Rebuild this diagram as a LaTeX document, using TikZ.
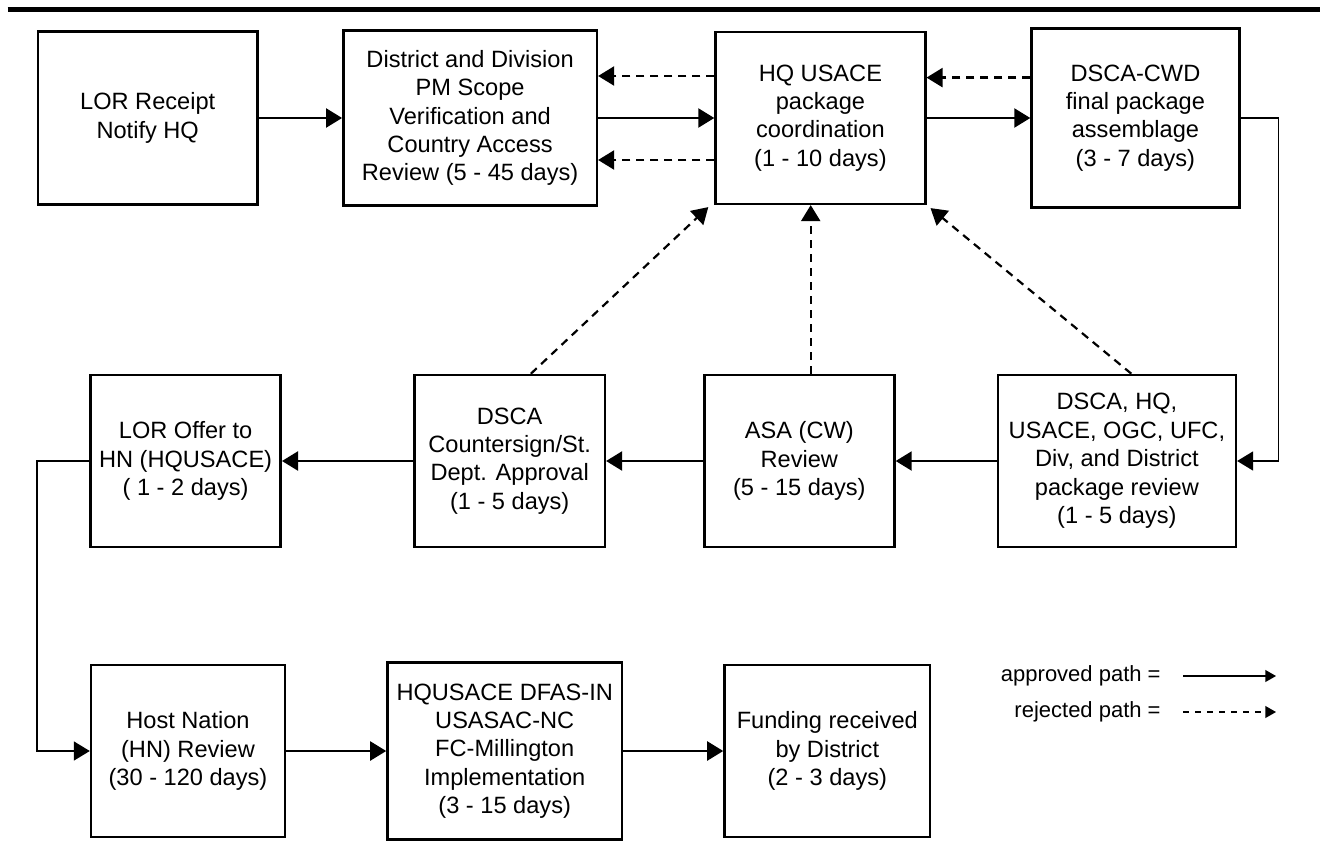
\documentclass[tikz,border=0pt]{standalone}
\usepackage{fontspec}
\setmainfont{Liberation Sans}
\usepackage{tikz}
\usetikzlibrary{arrows.meta}
\pgfdeclarelayer{edgelayer}
\pgfdeclarelayer{nodelayer}
\pgfsetlayers{edgelayer,nodelayer,main}
\tikzstyle{box}=[rectangle,fill=white,draw=black,line width=1.3pt,align=center,inner sep=2pt,font=\fontsize{11.8}{14.2}\selectfont]
\tikzstyle{keytext}=[anchor=east,inner sep=0pt,font=\fontsize{11}{13}\selectfont]
\tikzstyle{rejected}=[dash pattern=on 4pt off 3pt]
\tikzstyle{keyline}=[line width=0.6pt,-{Triangle[length=5.3pt,width=5.9pt]}]

\begin{document}
\begin{tikzpicture}[x=0.5pt,y=-0.5pt,>={Triangle[length=8pt,width=9.5pt]}]
        \useasboundingbox (0,0) rectangle (1320,840);
        \draw [line width=2.2pt] (7.6,9.5) -- (1320,9.5);

        \begin{pgfonlayer}{nodelayer}
            \node [style = box, minimum width=109.9pt, minimum height=86.2pt] (lor) at (147.7, 118) {LOR Receipt\\Notify HQ};
            \node [style = box, minimum width=126.7pt, minimum height=87.5pt] (scope) at (470.1, 118) {District and Division\\PM Scope\\Verification and\\Country Access\\Review (5 - 45 days)};
            \node [style = box, minimum width=104.8pt, minimum height=85.8pt] (hq) at (820.4, 118) {HQ USACE\\package\\coordination\\(1 - 10 days)};
            \node [style = box, minimum width=103.8pt, minimum height=89.5pt] (cwd) at (1135.4, 118) {DSCA-CWD\\final package\\assemblage\\(3 - 7 days)};

            \node [style = box, minimum width=95.1pt, minimum height=86pt] (offer) at (185.6, 461) {LOR Offer to\\HN (HQUSACE)\\( 1 - 2 days)};
            \node [style = box, minimum width=95.1pt, minimum height=86pt] (counter) at (509.7, 461) {DSCA\\Countersign/St.\\Dept. Approval\\(1 - 5 days)};
            \node [style = box, minimum width=95.1pt, minimum height=86pt] (asa) at (799.3, 461) {ASA (CW)\\Review\\(5 - 15 days)};
            \node [style = box, minimum width=118.9pt, minimum height=86pt] (review) at (1116.9, 461) {DSCA, HQ,\\USACE, OGC, UFC,\\Div, and District\\package review\\(1 - 5 days)};

            \node [style = box, minimum width=96.9pt, minimum height=86pt] (host) at (188, 751) {Host Nation\\(HN) Review\\(30 - 120 days)};
            \node [style = box, minimum width=117.2pt, minimum height=88.5pt] (dfas) at (504.7, 751) {HQUSACE DFAS-IN\\USASAC-NC\\FC-Millington\\Implementation\\(3 - 15 days)};
            \node [style = box, minimum width=102.8pt, minimum height=86pt] (fund) at (827.3, 751) {Funding received\\by District\\(2 - 3 days)};

            \node [style = keytext] (approved) at (1161, 676) {approved path =};
            \node [style = keytext] (rejectedkey) at (1161, 712) {rejected path =};
        \end{pgfonlayer}

        \begin{pgfonlayer}{edgelayer}
            % approved path
            \draw [->, line width=1.1pt] (lor) to (scope);
            \draw [->, line width=1.1pt] (scope) to (hq);
            \draw [->, line width=1.1pt] (hq) to (cwd);
            \draw [->, line width=0.8pt] (cwd.east) -- ++(38,0) |- (review.east);
            \draw [->, line width=1.1pt] (review) to (asa);
            \draw [->, line width=1.1pt] (asa) to (counter);
            \draw [->, line width=1.1pt] (counter) to (offer);
            \draw [->, line width=0.8pt] (offer.west) -- ++(-52,0) |- (host.west);
            \draw [->, line width=1.1pt] (host) to (dfas);
            \draw [->, line width=1.1pt] (dfas) to (fund);

            % rejected path
            \draw [->, line width=1.1pt, rejected] ([yshift=21pt]hq.west) to ([yshift=21pt]hq.west -| scope.east);
            \draw [->, line width=1.1pt, rejected] ([yshift=-21pt]hq.west) to ([yshift=-21pt]hq.west -| scope.east);
            \draw [->, line width=1.1pt, rejected] ([yshift=20.2pt]cwd.west) to ([yshift=20.2pt]cwd.west -| hq.east);
            \draw [->, line width=1.1pt, rejected] ([xshift=10.6pt]counter.north) to ([xshift=-3pt,yshift=-1pt]hq.south west);
            \draw [->, line width=1.1pt, rejected] ([xshift=5.7pt]asa.north) to ([xshift=5.7pt]asa.north |- hq.south);
            \draw [->, line width=1.1pt, rejected] ([xshift=7.2pt]review.north) to ([xshift=2pt,yshift=-1.5pt]hq.south east);

            % key
            \draw [style = keyline] ([xshift=11pt]approved.east) -- ++(93,0);
            \draw [style = keyline, dash pattern=on 3pt off 3pt] ([xshift=11pt]rejectedkey.east) -- ++(93,0);
        \end{pgfonlayer}
    \end{tikzpicture}
\end{document}
